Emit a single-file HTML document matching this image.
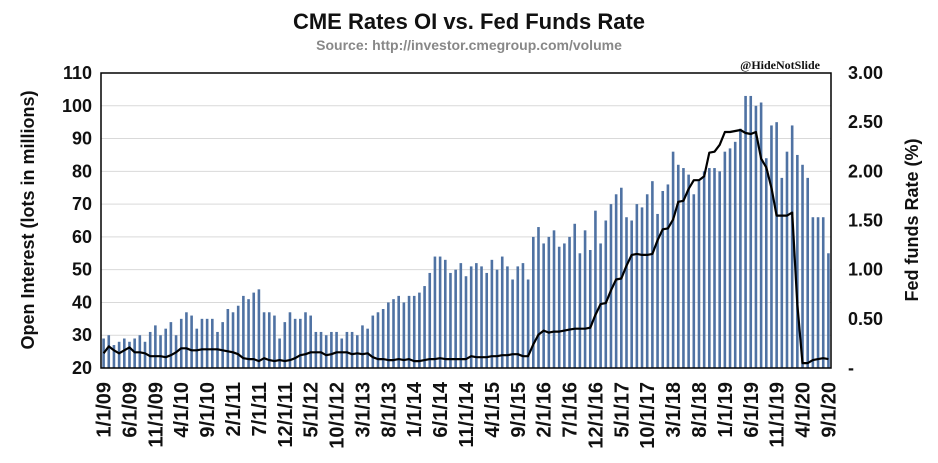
<!DOCTYPE html>
<html><head><meta charset="utf-8"><style>
body{margin:0;background:#fff;}
svg{display:block;font-family:"Liberation Sans",sans-serif;}
</style></head><body>
<svg id="chart" width="938" height="463">
<text x="469" y="29" text-anchor="middle" font-size="22" font-weight="bold" fill="#111">CME Rates OI vs. Fed Funds Rate</text>
<text x="469" y="50" text-anchor="middle" font-size="14" font-weight="bold" fill="#888">Source: http://investor.cmegroup.com/volume</text>
<text x="820" y="69" text-anchor="end" font-size="12" font-weight="bold" font-family="Liberation Serif,serif" fill="#111">@HideNotSlide</text>
<text transform="translate(34,220) rotate(-90)" text-anchor="middle" font-size="18" font-weight="bold" fill="#111">Open Interest (lots in millions)</text>
<text transform="translate(918,220) rotate(-90)" text-anchor="middle" font-size="18" font-weight="bold" fill="#111">Fed funds Rate (%)</text>
<g id="grid"></g><g id="bars"></g><g id="line"></g><g id="axes"></g>
</svg>
<script>
const oiValues=[29,30,27,28,29,28,29,30,28,31,33,30,
32,34,30,35,37,36,32,35,35,35,31,34,
38,37,39,42,41,43,44,37,37,36,29,34,
37,35,35,37,36,31,31,30,31,31,29,31,
31,30,33,32,36,37,38,40,41,42,40,42,
42,43,45,49,54,54,53,49,50,52,48,51,
52,51,49,53,50,54,51,47,51,52,47,60,
63,58,60,62,57,58,60,64,55,62,56,68,
58,65,70,73,75,66,65,70,69,73,77,67,
74,76,86,82,81,79,73,77,80,81,81,80,
86,87,89,93,103,103,100,101,84,94,95,78,
86,94,85,82,78,66,66,66,55];
const fedValues=[0.15,0.22,0.18,0.15,0.18,0.21,0.16,0.16,0.15,0.12,0.12,0.12,
0.11,0.13,0.16,0.20,0.20,0.18,0.18,0.19,0.19,0.19,0.19,0.18,
0.17,0.16,0.14,0.10,0.09,0.09,0.07,0.10,0.08,0.07,0.08,0.07,
0.08,0.10,0.13,0.14,0.16,0.16,0.16,0.13,0.14,0.16,0.16,0.16,
0.14,0.15,0.14,0.15,0.11,0.09,0.09,0.08,0.08,0.09,0.08,0.09,
0.07,0.07,0.08,0.09,0.09,0.10,0.09,0.09,0.09,0.09,0.09,0.12,
0.11,0.11,0.11,0.12,0.12,0.13,0.13,0.14,0.14,0.12,0.12,0.24,
0.34,0.38,0.36,0.37,0.37,0.38,0.39,0.40,0.40,0.40,0.41,0.54,
0.65,0.66,0.79,0.90,0.91,1.04,1.15,1.16,1.15,1.15,1.16,1.30,
1.41,1.42,1.51,1.69,1.70,1.82,1.91,1.91,1.95,2.19,2.20,2.27,
2.40,2.40,2.41,2.42,2.39,2.38,2.40,2.13,2.04,1.83,1.55,1.55,
1.55,1.58,0.65,0.05,0.05,0.08,0.09,0.10,0.09];
const leftTicks=[20,30,40,50,60,70,80,90,100,110];
const rightTicks=[0,0.5,1,1.5,2,2.5,3];
const rightTickLabels=["-","0.50","1.00","1.50","2.00","2.50","3.00"];
const xLabels=["1/1/09","6/1/09","11/1/09","4/1/10","9/1/10","2/1/11","7/1/11","12/1/11","5/1/12","10/1/12","3/1/13","8/1/13","1/1/14","6/1/14","11/1/14","4/1/15","9/1/15","2/1/16","7/1/16","12/1/16","5/1/17","10/1/17","3/1/18","8/1/18","1/1/19","6/1/19","11/1/19","4/1/20","9/1/20"];

const L=101,R=831,T=73,B=368,N=oiValues.length;
const step=(R-L)/N;
const x=i=>L+(i+0.5)*step;
const y=v=>B-(v-20)/90*(B-T);
const y2=v=>B-v/3*(B-T);
const NS="http://www.w3.org/2000/svg";
function mk(tag,parent,attrs){const e=document.createElementNS(NS,tag);for(const k in attrs)e.setAttribute(k,attrs[k]);document.getElementById(parent).appendChild(e);return e;}

leftTicks.forEach(t=>{
  if(t>20&&t<110){const g=mk('line','grid',{x1:L,x2:R,y1:y(t),y2:y(t),stroke:'#d9d9d9','stroke-width':1});
  
  }
  const lb=mk('text','axes',{x:92,y:y(t)+6,'text-anchor':'end','font-size':18,'font-weight':'bold',fill:'#111'});
  lb.textContent=t;
  
  
});
rightTicks.forEach((t,i)=>{
  const lb=mk('text','axes',{x:848,y:y2(t)+6,'text-anchor':'start','font-size':18,'font-weight':'bold',fill:'#111'});
  lb.textContent=rightTickLabels[i];
  
  
});
oiValues.forEach((v,i)=>{
  const b=mk('rect','bars',{x:x(i)-1.3,y:y(v),width:2.6,height:B-y(v),fill:'#4f72a3'});
  
  
});
const pts=fedValues.map((v,i)=>x(i).toFixed(1)+','+y2(v).toFixed(1)).join(' ');
const pl=mk('polyline','line',{points:pts,fill:'none',stroke:'#000','stroke-width':2.2,'stroke-linejoin':'round'});


const fr=mk('rect','axes',{x:L,y:T,width:R-L,height:B-T,fill:'none',stroke:'#000','stroke-width':1.5});


xLabels.forEach((s,k)=>{
  const xl=mk('text','axes',{transform:`translate(${x(k*5)+7},382) rotate(-90)`,'text-anchor':'end','font-size':20,'font-weight':'bold',fill:'#111'});
  xl.textContent=s;
  
  
});
</script>
</body></html>
